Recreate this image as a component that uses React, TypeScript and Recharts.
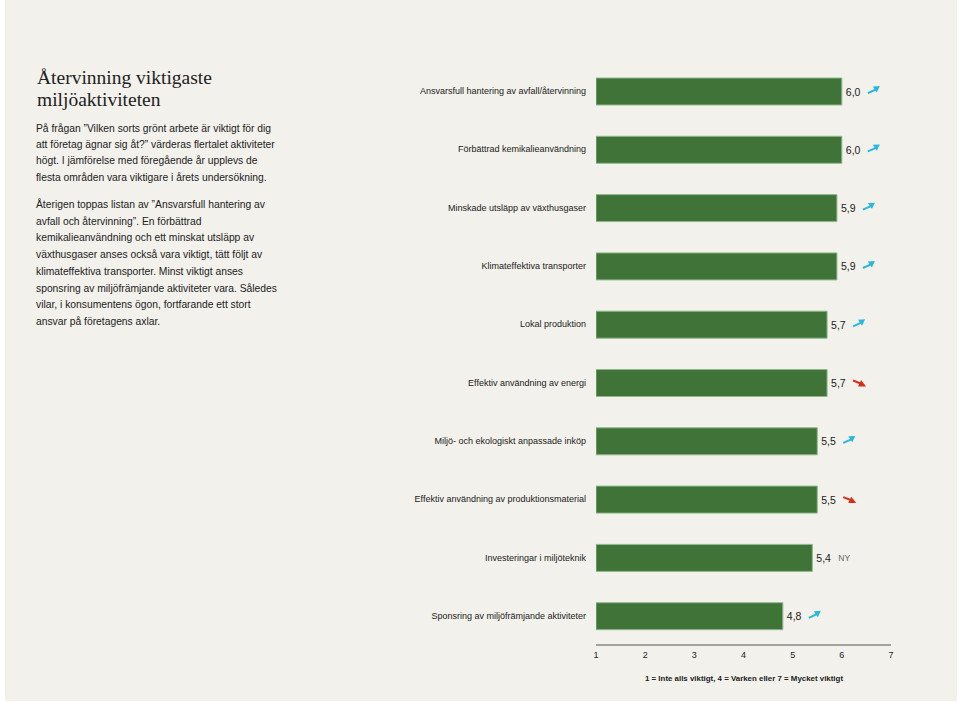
import { BarChart, Bar, XAxis, YAxis, LabelList } from 'recharts';

const categories = [
  'Ansvarsfull hantering av avfall/återvinning',
  'Förbättrad kemikalieanvändning',
  'Minskade utsläpp av växthusgaser',
  'Klimateffektiva transporter',
  'Lokal produktion',
  'Effektiv användning av energi',
  'Miljö- och ekologiskt anpassade inköp',
  'Effektiv användning av produktionsmaterial',
  'Investeringar i miljöteknik',
  'Sponsring av miljöfrämjande aktiviteter',
];
const values = [6.0, 6.0, 5.9, 5.9, 5.7, 5.7, 5.5, 5.5, 5.4, 4.8];
const trends = ['up', 'up', 'up', 'up', 'up', 'down', 'up', 'down', 'new', 'up'];
const xTicks = [1, 2, 3, 4, 5, 6, 7];

const titleLines = ['Återvinning viktigaste', 'miljöaktiviteten'];
const introLines = [
  'På frågan ”Vilken sorts grönt arbete är viktigt för dig',
  'att företag ägnar sig åt?” värderas flertalet aktiviteter',
  'högt. I jämförelse med föregående år upplevs de',
  'flesta områden vara viktigare i årets undersökning.',
];
const bodyLines = [
  'Återigen toppas listan av ”Ansvarsfull hantering av',
  'avfall och återvinning”. En förbättrad',
  'kemikalieanvändning och ett minskat utsläpp av',
  'växthusgaser anses också vara viktigt, tätt följt av',
  'klimateffektiva transporter. Minst viktigt anses',
  'sponsring av miljöfrämjande aktiviteter vara. Således',
  'vilar, i konsumentens ögon, fortfarande ett stort',
  'ansvar på företagens axlar.',
];
const footnote = '1 = Inte alls viktigt, 4 = Varken eller 7 = Mycket viktigt';

const data = categories.map((name, i) => ({ name, value: values[i], trend: trends[i] }));

const SANS = '"Liberation Sans", Arial, sans-serif';

function CategoryTick(props: any) {
  const { x, y, payload } = props;
  return (
    <text x={x} y={y + 3} textAnchor="end" fontSize={9} fontFamily={SANS} fill="#222">
      {payload.value}
    </text>
  );
}

function ValueLabel(props: any) {
  const { x, y, width, height, index } = props;
  const end = x + width;
  const mid = y + height / 2;
  const trend = trends[index];
  return (
    <g>
      <text x={end + 4} y={mid + 4} fontSize={10.5} fontFamily={SANS} fill="#222">
        {values[index].toFixed(1).replace('.', ',')}
      </text>
      {trend === 'new' && (
        <text x={end + 26} y={mid + 3} fontSize={8.5} fontFamily={SANS} fill="#666">NY</text>
      )}
      {trend === 'up' && (
        <g transform={`translate(${end + 26} ${mid + 1.6})`}>
          <path d="M0 0 L8 -3.6" stroke="#27b9dc" strokeWidth={2} />
          <path d="M5 -6.6 L12 -7 L9 -0.6 Z" fill="#27b9dc" />
        </g>
      )}
      {trend === 'down' && (
        <g transform={`translate(${end + 26} ${mid - 2.5})`}>
          <path d="M0 0 L8 3.2" stroke="#d4301a" strokeWidth={2} />
          <path d="M8 -0.4 L13 6 L5 6 Z" fill="#d4301a" />
        </g>
      )}
    </g>
  );
}

export default function App() {
  return (
    <div style={{ position: 'absolute', left: 0, top: 0, width: 960, height: 702, background: '#fff', overflow: 'hidden' }}>
      <div style={{ position: 'absolute', left: 5, top: 0, width: 952, height: 701, background: '#f2f1eb' }} />

      <div style={{ position: 'absolute', left: 37, top: 67, fontFamily: '"Liberation Serif", serif', fontSize: 19.5, lineHeight: '22px', color: '#222', whiteSpace: 'nowrap' }}>
        {titleLines.map(l => <div key={l}>{l}</div>)}
      </div>
      <div style={{ position: 'absolute', left: 36, top: 121, fontFamily: SANS, fontSize: 10.3, lineHeight: '16.2px', color: '#222', whiteSpace: 'nowrap' }}>
        {introLines.map(l => <div key={l}>{l}</div>)}
      </div>
      <div style={{ position: 'absolute', left: 36, top: 197, fontFamily: SANS, fontSize: 10.3, lineHeight: '16.7px', color: '#222', whiteSpace: 'nowrap' }}>
        {bodyLines.map(l => <div key={l}>{l}</div>)}
      </div>

      <div style={{ position: 'absolute', left: 0, top: 0 }}>
        <BarChart
          width={960}
          height={702}
          data={data}
          layout="vertical"
          margin={{ left: 396, right: 69, top: 62, bottom: 37 }}
          barSize={27}
        >
          <XAxis
            type="number"
            domain={[1, 7]}
            ticks={xTicks}
            allowDataOverflow
            height={20}
            tickLine={false}
            tickMargin={1}
            stroke="#555"
            tick={{ fontSize: 9, fontFamily: SANS, fill: '#222' }}
          />
          <YAxis
            type="category"
            dataKey="name"
            width={200}
            interval={0}
            axisLine={false}
            tickLine={false}
            tickMargin={4}
            tick={CategoryTick}
          />
          <Bar dataKey="value" fill="#3f7338" stroke="#8fb98c" strokeWidth={1} isAnimationActive={false}>
            <LabelList dataKey="value" content={ValueLabel} />
          </Bar>
        </BarChart>
      </div>

      <div style={{ position: 'absolute', left: 604, top: 674, width: 280, textAlign: 'center', fontFamily: SANS, fontSize: 7.9, fontWeight: 700, color: '#222', whiteSpace: 'nowrap' }}>
        {footnote}
      </div>
    </div>
  );
}
